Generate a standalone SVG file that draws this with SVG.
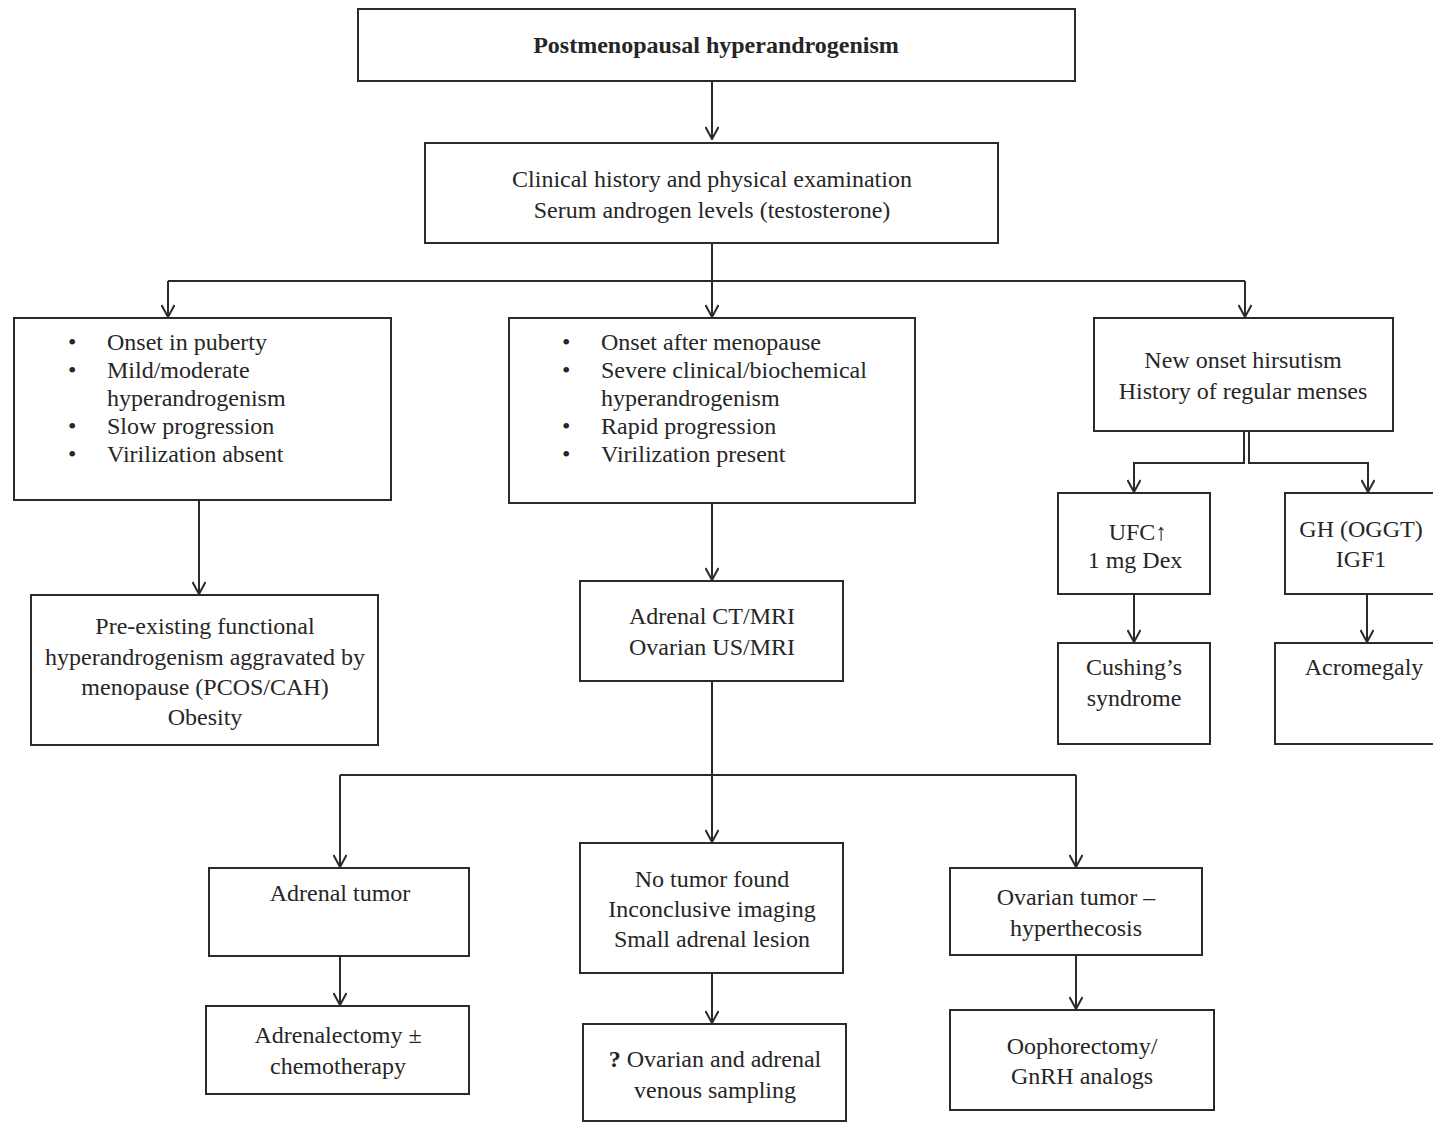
<svg xmlns="http://www.w3.org/2000/svg" width="1433" height="1122" viewBox="0 0 1433 1122">
<defs>
<style>
.box{fill:#fff;stroke:#2b2b2b;stroke-width:2}
.t{font-family:"Liberation Serif","Times New Roman",serif;font-size:24px;fill:#262626}
.c{text-anchor:middle}
.b{font-weight:bold}
.ln{fill:none;stroke:#2b2b2b;stroke-width:2}
</style>
<marker id="ah" viewBox="0 0 14 14" refX="13" refY="7" markerWidth="14" markerHeight="14" markerUnits="userSpaceOnUse" orient="auto">
<path d="M1,0.5 L13,7 L1,13.5" fill="none" stroke="#2b2b2b" stroke-width="2"/>
</marker>
</defs>
<rect width="1433" height="1122" fill="#fff"/>

<g id="connectors">
<path class="ln" d="M712,81 V139" marker-end="url(#ah)"/>
<path class="ln" d="M712,243 V281"/>
<path class="ln" d="M168,281 H1245"/>
<path class="ln" d="M168,281 V317" marker-end="url(#ah)"/>
<path class="ln" d="M712,281 V317" marker-end="url(#ah)"/>
<path class="ln" d="M1245,281 V317" marker-end="url(#ah)"/>
<path class="ln" d="M199,500 V594" marker-end="url(#ah)"/>
<path class="ln" d="M712,503 V580" marker-end="url(#ah)"/>
<path class="ln" d="M1244,431 V463 H1134 V492" marker-end="url(#ah)"/>
<path class="ln" d="M1249,431 V463 H1368 V492" marker-end="url(#ah)"/>
<path class="ln" d="M1134,594 V642" marker-end="url(#ah)"/>
<path class="ln" d="M1367,594 V642" marker-end="url(#ah)"/>
<path class="ln" d="M712,681 V775"/>
<path class="ln" d="M340,775 H1076"/>
<path class="ln" d="M340,775 V867" marker-end="url(#ah)"/>
<path class="ln" d="M712,775 V842" marker-end="url(#ah)"/>
<path class="ln" d="M1076,775 V867" marker-end="url(#ah)"/>
<path class="ln" d="M340,956 V1005" marker-end="url(#ah)"/>
<path class="ln" d="M712,973 V1023" marker-end="url(#ah)"/>
<path class="ln" d="M1076,955 V1009" marker-end="url(#ah)"/>
</g>

<g id="n-title">
<rect class="box" x="358" y="9" width="717" height="72"/>
<text class="t c b" x="716" y="53">Postmenopausal hyperandrogenism</text>
</g>

<g id="n-clinical">
<rect class="box" x="425" y="143" width="573" height="100"/>
<text class="t c" x="712" y="187">Clinical history and physical examination</text>
<text class="t c" x="712" y="218">Serum androgen levels (testosterone)</text>
</g>

<g id="n-puberty">
<rect class="box" x="14" y="318" width="377" height="182"/>
<text class="t" x="68" y="350">•</text><text class="t" x="107" y="350">Onset in puberty</text>
<text class="t" x="68" y="378">•</text><text class="t" x="107" y="378">Mild/moderate</text>
<text class="t" x="107" y="406">hyperandrogenism</text>
<text class="t" x="68" y="434">•</text><text class="t" x="107" y="434">Slow progression</text>
<text class="t" x="68" y="462">•</text><text class="t" x="107" y="462">Virilization absent</text>
</g>

<g id="n-preexisting">
<rect class="box" x="31" y="595" width="347" height="150"/>
<text class="t c" x="205" y="634">Pre-existing functional</text>
<text class="t c" x="205" y="665">hyperandrogenism aggravated by</text>
<text class="t c" x="205" y="695">menopause (PCOS/CAH)</text>
<text class="t c" x="205" y="725">Obesity</text>
</g>

<g id="n-menopause">
<rect class="box" x="509" y="318" width="406" height="185"/>
<text class="t" x="562" y="350">•</text><text class="t" x="601" y="350">Onset after menopause</text>
<text class="t" x="562" y="378">•</text><text class="t" x="601" y="378">Severe clinical/biochemical</text>
<text class="t" x="601" y="406">hyperandrogenism</text>
<text class="t" x="562" y="434">•</text><text class="t" x="601" y="434">Rapid progression</text>
<text class="t" x="562" y="462">•</text><text class="t" x="601" y="462">Virilization present</text>
</g>

<g id="n-imaging">
<rect class="box" x="580" y="581" width="263" height="100"/>
<text class="t c" x="712" y="624">Adrenal CT/MRI</text>
<text class="t c" x="712" y="655">Ovarian US/MRI</text>
</g>

<g id="n-hirsutism">
<rect class="box" x="1094" y="318" width="299" height="113"/>
<text class="t c" x="1243" y="368">New onset hirsutism</text>
<text class="t c" x="1243" y="399">History of regular menses</text>
</g>

<g id="n-ufc">
<rect class="box" x="1058" y="493" width="152" height="101"/>
<text class="t c" x="1138" y="540">UFC<tspan font-weight="bold">↑</tspan></text>
<text class="t c" x="1135" y="568">1 mg Dex</text>
</g>

<g id="n-cushing">
<rect class="box" x="1058" y="643" width="152" height="101"/>
<text class="t c" x="1134" y="675">Cushing’s</text>
<text class="t c" x="1134" y="706">syndrome</text>
</g>

<g id="n-gh">
<rect class="box" x="1285" y="493" width="160" height="101"/>
<text class="t c" x="1361" y="537">GH (OGGT)</text>
<text class="t c" x="1361" y="567">IGF1</text>
</g>

<g id="n-acromegaly">
<rect class="box" x="1275" y="643" width="170" height="101"/>
<text class="t c" x="1364" y="675">Acromegaly</text>
</g>

<g id="n-adrenal-tumor">
<rect class="box" x="209" y="868" width="260" height="88"/>
<text class="t c" x="340" y="901">Adrenal tumor</text>
</g>

<g id="n-adrenalectomy">
<rect class="box" x="206" y="1006" width="263" height="88"/>
<text class="t c" x="338" y="1043">Adrenalectomy ±</text>
<text class="t c" x="338" y="1074">chemotherapy</text>
</g>

<g id="n-no-tumor">
<rect class="box" x="580" y="843" width="263" height="130"/>
<text class="t c" x="712" y="887">No tumor found</text>
<text class="t c" x="712" y="917">Inconclusive imaging</text>
<text class="t c" x="712" y="947">Small adrenal lesion</text>
</g>

<g id="n-sampling">
<rect class="box" x="583" y="1024" width="263" height="97"/>
<text class="t c" x="715" y="1067"><tspan class="b">?</tspan> Ovarian and adrenal</text>
<text class="t c" x="715" y="1098">venous sampling</text>
</g>

<g id="n-ovarian-tumor">
<rect class="box" x="950" y="868" width="252" height="87"/>
<text class="t c" x="1076" y="905">Ovarian tumor –</text>
<text class="t c" x="1076" y="936">hyperthecosis</text>
</g>

<g id="n-oophorectomy">
<rect class="box" x="950" y="1010" width="264" height="100"/>
<text class="t c" x="1082" y="1054">Oophorectomy/</text>
<text class="t c" x="1082" y="1084">GnRH analogs</text>
</g>
</svg>
